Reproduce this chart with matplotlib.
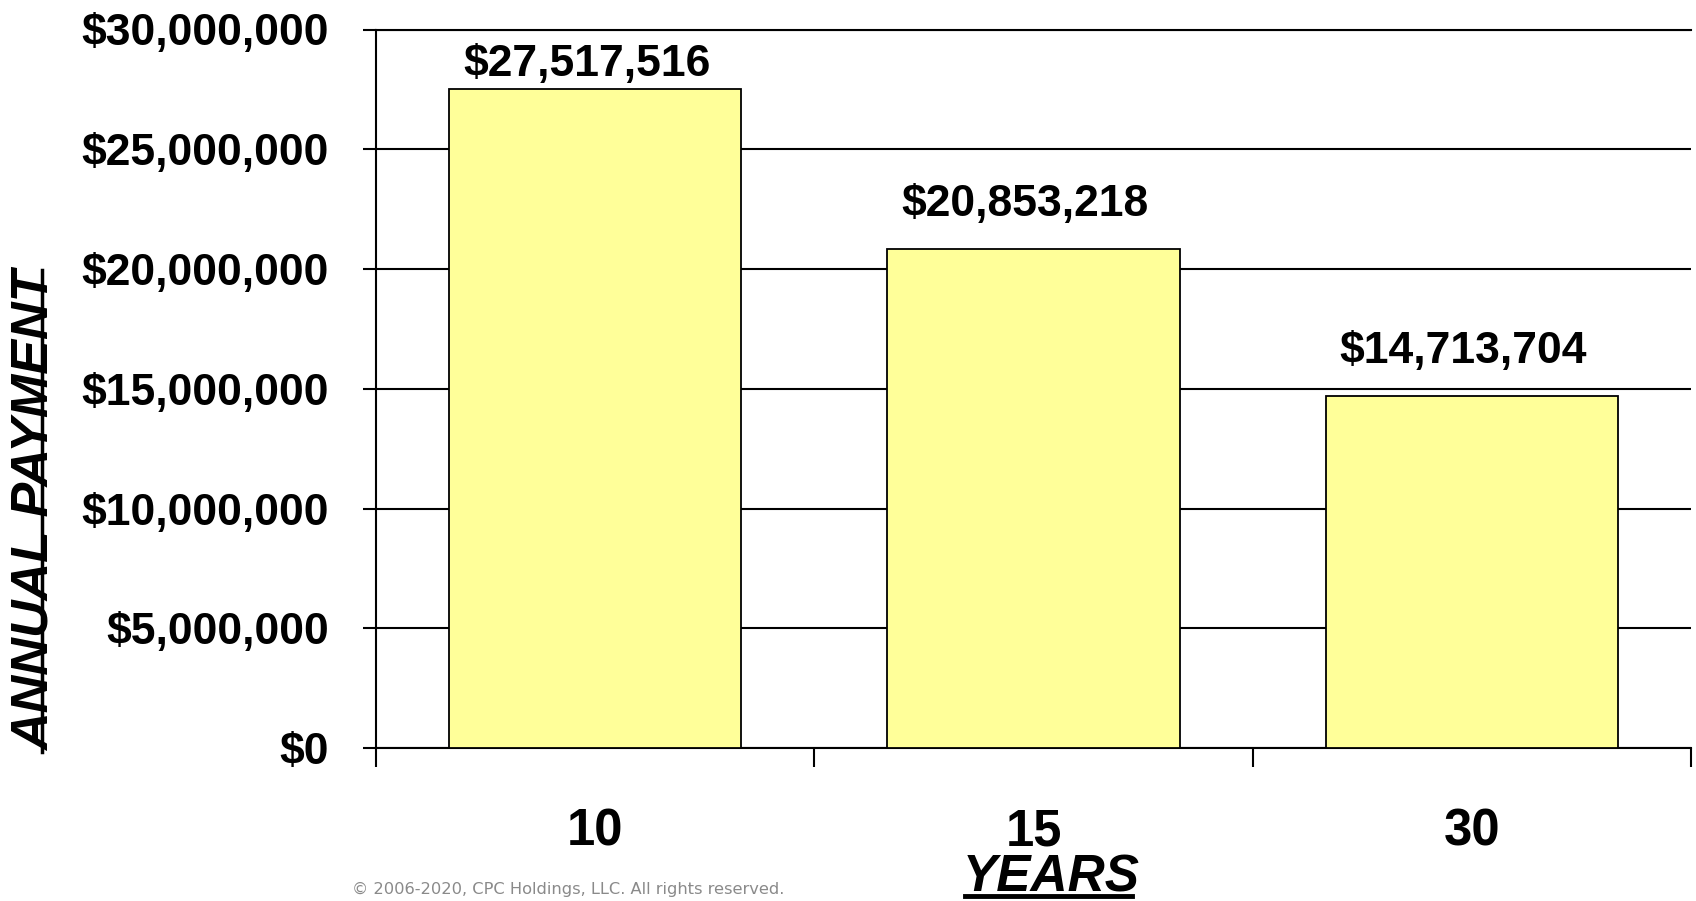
import matplotlib.pyplot as plt
from matplotlib.lines import Line2D
from matplotlib.ticker import FuncFormatter, MultipleLocator

years = ['10', '15', '30']
payments = [27517516, 20853218, 14713704]

W, H = 1696, 901
fig = plt.figure(figsize=(W / 100, H / 100), dpi=100)
plt.rcParams['font.family'] = ['Liberation Sans', 'DejaVu Sans']

ax = fig.add_axes([376 / W, 1 - 748 / H, (1691 - 376) / W, (748 - 29.5) / H])

pos = list(range(len(years)))
ax.bar(pos, payments, width=0.667, color='#FFFF99', edgecolor='black', linewidth=1.3, zorder=3)

ax.set_xlim(-0.5, len(years) - 0.5)
ax.set_ylim(0, 30000000)
ax.yaxis.set_major_locator(MultipleLocator(5000000))
ax.yaxis.set_major_formatter(FuncFormatter(lambda v, p: '${:,.0f}'.format(v)))
ax.grid(axis='y', color='black', linewidth=1.5, zorder=0)
ax.set_axisbelow(True)

ax.spines['right'].set_visible(False)
for s in ['left', 'bottom', 'top']:
    ax.spines[s].set_linewidth(1.5)

# category boundaries carry the tick marks, labels sit centred under the bars
ax.set_xticks([p - 0.5 for p in pos] + [len(years) - 0.5])
ax.set_xticklabels([])
ax.set_xticks(pos, minor=True)
ax.set_xticklabels(years, minor=True)
ax.tick_params(axis='x', which='major', direction='out', length=13.7, width=1.5)
ax.tick_params(axis='x', which='minor', length=0, pad=43, labelsize=36.5)
ax.tick_params(axis='y', direction='out', length=9.4, width=1.5, pad=24.5, labelsize=32)
for lbl in ax.get_xticklabels(minor=True) + ax.get_yticklabels():
    lbl.set_fontweight('bold')

for p, v in zip(pos, payments):
    y = min(v + 1380000, 28070000)
    ax.annotate('${:,.0f}'.format(v), (p, y), xytext=(-6, 0), textcoords='offset points',
                ha='center', va='baseline', fontsize=32, fontweight='bold', zorder=4)

# axis titles (underlined)
fig.text(35 / W, 1 - 511 / H, 'ANNUAL PAYMENT', rotation=90, ha='center', va='center',
         fontsize=37.5, fontweight='bold', fontstyle='italic')
fig.add_artist(Line2D([42 / W, 42 / W], [1 - 270 / H, 1 - 752 / H],
                      transform=fig.transFigure, color='black', linewidth=2.5))

fig.text(1051 / W, 1 - 892 / H, 'YEARS', ha='center', va='baseline',
         fontsize=37, fontweight='bold', fontstyle='italic')
fig.add_artist(Line2D([965 / W, 1132 / W], [1 - 896 / H, 1 - 896 / H],
                      transform=fig.transFigure, color='black', linewidth=3.5))

fig.text(352 / W, 1 - 894 / H, '\u00a9 2006-2020, CPC Holdings, LLC. All rights reserved.',
         ha='left', va='baseline', fontsize=11.7, color='#8a8a8a', family='DejaVu Sans')

fig.savefig('out.png', dpi=100)
